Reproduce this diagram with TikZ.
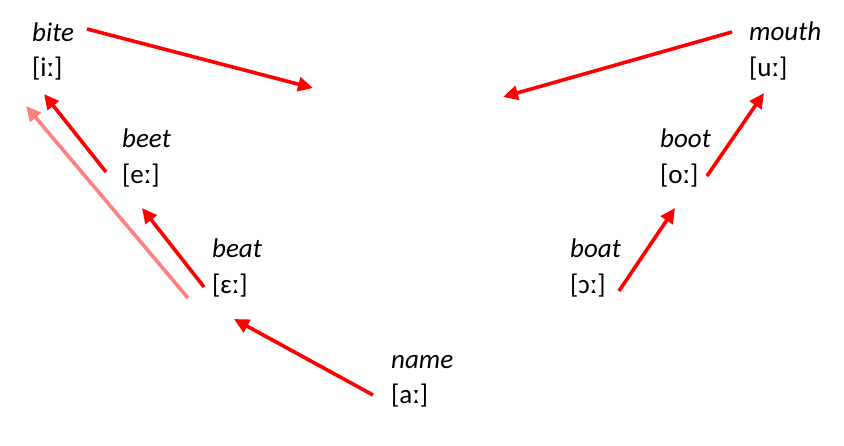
\documentclass[tikz,border=0pt]{standalone}
\usepackage{fontspec}
\setmainfont{Carlito}
\usetikzlibrary{arrows.meta}

\begin{document}
\begin{tikzpicture}[
  x=1pt, y=-1pt,
  every node/.style={
    anchor=base west, inner sep=0pt, align=left,
    font=\fontsize{27}{35.5}\selectfont
  },
  arrow/.style={-{Triangle[length=15pt,width=14pt]}, line width=3.6pt, red},
  faded/.style={arrow, red!50}
]
\useasboundingbox (0,0) rectangle (844,446);

\node (bite) at (32,77) {\textit{bite}\\{[iː]}};
\node (beet) at (122,183.5) {\textit{beet}\\{[eː]}};
\node (beat) at (212,293.5) {\textit{beat}\\{[ɛː]}};
\node (name) at (391,403.5) {\textit{name}\\{[aː]}};
\node (boat) at (570,293.5) {\textit{boat}\\{[ɔː]}};
\node (boot) at (660,183.5) {\textit{boot}\\{[oː]}};
\node (mouth) at (749,76.5) {\textit{mouth}\\{[uː]}};
\coordinate (midL) at (313,88);
\coordinate (midR) at (503,97);

\draw[arrow] ([shift={(55,-48)}]bite.base west) -- (midL);
\draw[arrow] ([shift={(-17,-44.5)}]mouth.base west) -- (midR);
\draw[arrow] ([shift={(-16,-11.5)}]beet.base west) -- ([shift={(12,17)}]bite.base west);
\draw[faded] ([shift={(-24,4.5)}]beat.base west) -- ([shift={(-6,29)}]bite.base west);
\draw[arrow] ([shift={(-8,-6.5)}]beat.base west) -- ([shift={(20,24.5)}]beet.base west);
\draw[arrow] ([shift={(-18,-8.5)}]name.base west) -- ([shift={(22,25.5)}]beat.base west);
\draw[arrow] ([shift={(49,-2.5)}]boat.base west) -- ([shift={(15,24.5)}]boot.base west);
\draw[arrow] ([shift={(47,-7.5)}]boot.base west) -- ([shift={(15,16.5)}]mouth.base west);

\end{tikzpicture}
\end{document}
